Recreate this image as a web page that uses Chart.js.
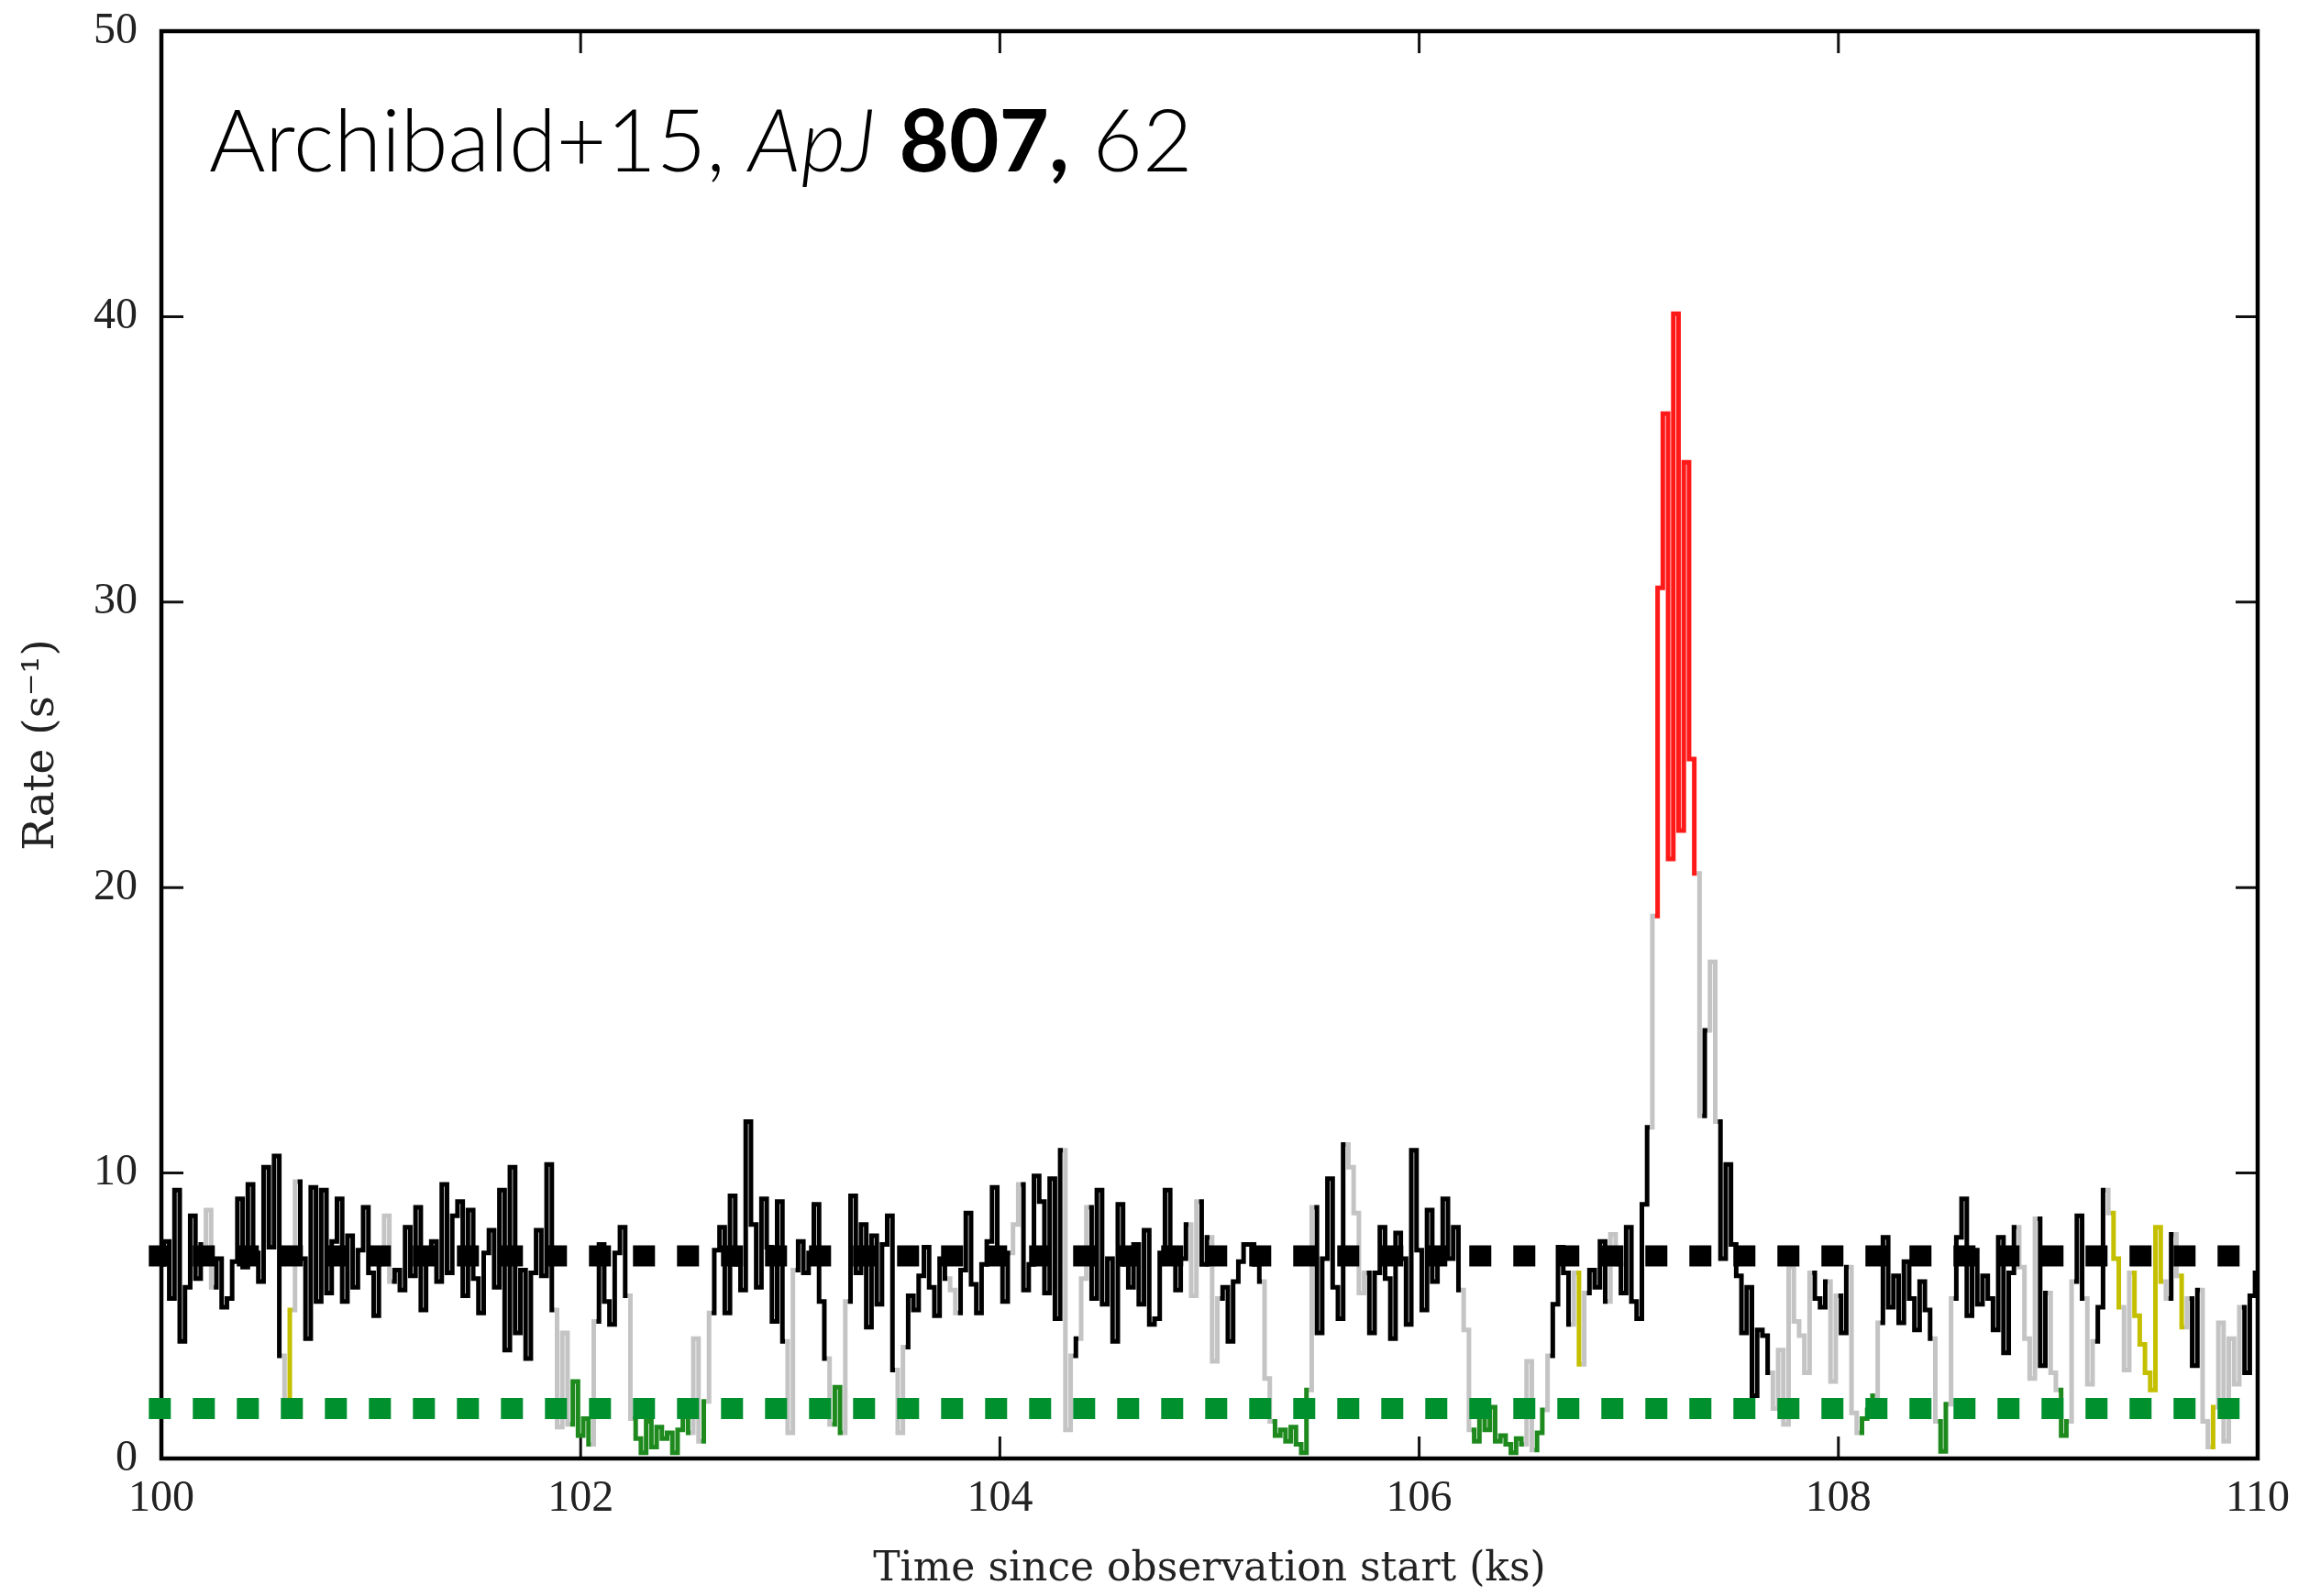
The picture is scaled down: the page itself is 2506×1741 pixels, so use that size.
<!DOCTYPE html>
<html>
<head>
<meta charset="utf-8">
<script src="https://cdn.jsdelivr.net/npm/chart.js@4.4.1/dist/chart.umd.min.js"></script>
<style>
  html, body { margin: 0; padding: 0; background: #fff; }
  #lightcurve_container { width: 2506px; height: 1741px; }
</style>
</head>
<body>
<div id="lightcurve_container"><canvas id="lightcurve"></canvas></div>
<script>
// Count-rate light curve, 25 s bins from 100 ks on
const binStart = 100;     // ks
const binWidth = 0.025;   // ks

const rates = [
  6.8, 7.6, 5.6, 9.4, 4.1, 6.0, 8.5, 6.3, 7.5, 8.7,
  6.0, 7.0, 5.3, 5.6, 6.9, 9.1, 6.7, 9.6, 7.2, 6.2,
  10.2, 7.4, 10.6, 3.6, 2.0, 5.2, 9.7, 7.0, 4.2, 9.5,
  5.5, 9.4, 5.8, 7.6, 9.1, 5.5, 7.8, 6.0, 7.3, 8.8,
  6.5, 5.0, 6.8, 8.5, 6.2, 6.6, 5.9, 8.1, 6.4, 8.8,
  5.2, 7.0, 7.6, 6.2, 9.6, 6.5, 8.5, 9.0, 5.7, 8.7,
  6.3, 5.1, 7.2, 8.0, 6.0, 9.4, 3.8, 10.2, 4.4, 6.6,
  3.5, 6.5, 8.0, 6.4, 10.3, 5.2, 1.1, 4.4, 1.2, 2.7,
  0.8, 1.4, 0.5, 4.8, 7.5, 5.5, 4.7, 7.2, 8.1, 5.7,   // 102 ks
  1.4, 0.7, 0.2, 1.3, 0.4, 1.1, 0.7, 0.9, 0.2, 1.0,
  1.5, 0.9, 4.2, 0.6, 2.0, 5.1, 7.3, 8.1, 5.1, 9.2,
  6.8, 5.9, 11.8, 8.2, 6.0, 9.1, 7.4, 4.8, 9.0, 4.1,
  0.9, 6.6, 7.6, 6.5, 7.2, 8.9, 5.5, 3.5, 1.2, 2.5,
  0.9, 5.5, 9.2, 6.5, 8.2, 4.6, 7.8, 5.4, 7.5, 8.5,
  3.1, 0.9, 3.9, 5.7, 5.2, 6.4, 7.4, 6.0, 5.0, 7.0,
  6.3, 5.9, 5.1, 6.6, 8.6, 6.1, 5.1, 6.8, 7.6, 9.5,
  7.0, 5.5, 7.2, 8.2, 9.6, 5.9, 6.8, 9.9, 9.0, 5.8,   // 104 ks
  9.8, 4.9, 10.8, 1.0, 3.6, 4.2, 6.3, 8.8, 5.6, 9.4,
  5.4, 7.0, 4.1, 8.9, 6.8, 6.0, 7.5, 5.4, 8.0, 4.7,
  4.9, 7.2, 9.4, 6.9, 5.9, 7.0, 8.2, 5.7, 9.0, 6.8,
  7.75, 3.4, 5.6, 6.0, 4.1, 6.2, 6.9, 7.5, 7.5, 6.8,
  6.2, 2.8, 1.3, 0.8, 1.0, 0.6, 1.1, 0.5, 0.2, 2.4,
  8.8, 4.4, 7.0, 9.8, 6.0, 4.9, 11.0, 10.2, 8.6, 5.8,
  6.5, 4.4, 6.5, 8.1, 6.3, 4.2, 7.9, 7.0, 4.7, 10.8,
  7.3, 5.2, 8.7, 6.2, 7.0, 9.1, 7.0, 8.1, 5.9, 4.5,   // 106 ks
  1.0, 0.6, 1.5, 1.0, 1.8, 0.6, 0.8, 0.5, 0.2, 0.7,
  0.5, 3.4, 0.3, 0.9, 1.7, 3.6, 5.4, 7.4, 6.5, 4.7,
  6.5, 3.3, 5.8, 6.6, 6.0, 7.6, 5.5, 7.85, 6.8, 5.8,
  8.1, 5.5, 4.9, 8.9, 11.6, 19.0, 30.5, 36.6, 21.0, 40.1,
  22.0, 34.9, 24.5, 20.5, 12.0, 15.0, 17.4, 11.8, 7.0, 10.3,
  7.5, 6.4, 4.4, 6.0, 2.2, 4.5, 4.3, 3.0, 1.75, 3.8,
  1.2, 6.7, 4.8, 4.3, 3.0, 6.5, 5.6, 5.3, 6.2, 2.7,
  5.7, 4.4, 6.7, 1.6, 0.9, 1.4, 1.7, 2.2, 4.75, 7.75,  // 108 ks
  5.3, 6.4, 4.75, 6.9, 5.6, 4.5, 6.2, 5.2, 4.2, 1.3,
  0.25, 1.9, 5.6, 7.75, 9.1, 5.0, 7.3, 5.4, 6.4, 5.6,
  4.5, 7.75, 3.7, 6.5, 8.1, 6.7, 4.2, 2.8, 8.4, 3.25,
  5.8, 3.0, 2.4, 0.8, 1.3, 6.2, 8.5, 5.6, 2.6, 4.1,
  5.3, 9.4, 8.6, 7.0, 5.3, 3.1, 6.5, 5.0, 4.0, 3.0,
  2.4, 8.1, 6.2, 5.6, 7.85, 6.4, 4.6, 5.6, 3.25, 5.9,
  1.3, 0.4, 1.8, 4.75, 0.6, 4.2, 2.6, 5.3, 3.0, 5.7,
  6.5                                                  // 110 ks
];

// mode of each bin: h = high, l = low, f = flare, y = unassigned
const modes = [
  'hhhhhhhhhy', 'hhhhhhhhhh', 'hhhhyyhhhh', 'hhhhhhhhhh', 'hhhyhhhhhh',
  'hhhhhhhhhh', 'hhhhhhhhhh', 'hhhhhhlhll', 'lllhhhhhhh', 'llllllllll',
  'llhllhhhhh', 'hhhhhhhhhh', 'yhhhhhhhll', 'lhhhhhhhhh', 'hlhhhhhhhh',
  'hyhhhhhhhh', 'hhhyhhhhhh', 'hhhyhhyhhh', 'hhhhhhhhhh', 'hhhhhhhyhh',
  'hyhhhhhhhh', 'hyllllllll', 'hhhhhhhyhy', 'hhhhhhhhhh', 'hhhhhhhhhy',
  'llllllllll', 'lhlllhhhhh', 'yyhhhhhyhh', 'hhhhhfffff', 'ffffhhfhhh',
  'hhhhhhhhlh', 'lhyhyhhhhl', 'hhhyllllhh', 'hhhhhhhhhl', 'llhhhhhhhh',
  'hhhhhyhlhh', 'hylllhhhyh', 'hhyyyhyyyy', 'yyyhhyyhhh', 'lyyhlhlhhh',
  'h'
].join('').split('');

// mean rates of the high and low modes
const highLevel = 7.1;
const lowLevel = 1.75;
const levelSpan = [99.94, 109.92];

const xTicks = [100, 102, 104, 106, 108, 110];
const yTicks = [0, 10, 20, 30, 40, 50];

const modeColour = { h: '#000000', l: '#1e8a1e', f: '#ff1a1a', y: '#c4c000' };
const switchColour = '#c4c4c4';

const citation = [
  { text: 'Archibald+15, ', font: '300 94px Lato' },
  { text: 'ApJ', font: 'italic 300 94px Lato' },
  { text: ' ', font: '300 94px Lato' },
  { text: '807,', font: 'bold 94px Lato' },
  { text: ' 62', font: '300 94px Lato' }
];

const curve = rates.map((r, i) => ({ x: binStart + i * binWidth, y: r }));

// box round the plot with inward ticks on every side
const frame = {
  id: 'frame',
  beforeDatasetsDraw(chart) {
    const { ctx, chartArea: a, scales: { x, y } } = chart;
    const len = 24;
    ctx.save();
    ctx.strokeStyle = '#111';
    ctx.lineWidth = 3;
    ctx.beginPath();
    xTicks.slice(1, -1).forEach(v => {
      const px = x.getPixelForValue(v);
      ctx.moveTo(px, a.bottom); ctx.lineTo(px, a.bottom - len);
      ctx.moveTo(px, a.top); ctx.lineTo(px, a.top + len);
    });
    yTicks.slice(1, -1).forEach(v => {
      const py = y.getPixelForValue(v);
      ctx.moveTo(a.left, py); ctx.lineTo(a.left + len, py);
      ctx.moveTo(a.right, py); ctx.lineTo(a.right - len, py);
    });
    ctx.stroke();
    ctx.lineWidth = 4.5;
    ctx.strokeStyle = '#000';
    ctx.strokeRect(a.left, a.top, a.right - a.left, a.bottom - a.top);
    ctx.restore();
  }
};

const citationLabel = {
  id: 'citationLabel',
  afterDraw(chart) {
    const ctx = chart.ctx;
    let x = 228;
    ctx.save();
    ctx.fillStyle = '#000';
    ctx.textBaseline = 'alphabetic';
    citation.forEach(part => {
      ctx.font = part.font;
      ctx.fillText(part.text, x, 187);
      x += ctx.measureText(part.text).width;
    });
    ctx.restore();
  }
};

function drawLightCurve() {
  new Chart(document.getElementById('lightcurve'), {
    type: 'line',
    data: {
      datasets: [
        {
          data: [{ x: levelSpan[0], y: highLevel }, { x: levelSpan[1], y: highLevel }],
          borderColor: '#000',
          borderWidth: 23,
          borderDash: [24, 24],
          borderCapStyle: 'butt',
          pointRadius: 0,
          clip: false
        },
        {
          data: [{ x: levelSpan[0], y: lowLevel }, { x: levelSpan[1], y: lowLevel }],
          borderColor: '#00902e',
          borderWidth: 23,
          borderDash: [24, 24],
          borderCapStyle: 'butt',
          pointRadius: 0,
          clip: false
        },
        {
          data: curve,
          stepped: 'middle',
          borderWidth: 5,
          borderColor: '#000',
          pointRadius: 0,
          segment: {
            borderColor: c => modes[c.p0DataIndex] === modes[c.p1DataIndex]
              ? modeColour[modes[c.p0DataIndex]] : switchColour
          }
        }
      ]
    },
    options: {
      responsive: true,
      maintainAspectRatio: false,
      animation: false,
      events: [],
      layout: { padding: 0 },
      plugins: { legend: { display: false }, tooltip: { enabled: false } },
      scales: {
        x: {
          type: 'linear',
          min: 100, max: 110,
          afterFit: s => { s.height = 150; s.paddingLeft = 0; s.paddingRight = 44; },
          afterBuildTicks: s => { s.ticks = xTicks.map(v => ({ value: v })); },
          grid: { display: false, drawTicks: false },
          border: { display: false },
          ticks: { padding: 16, color: '#222', font: { family: 'Liberation Serif', size: 48 } },
          title: {
            display: true,
            text: 'Time since observation start (ks)',
            color: '#222',
            font: { family: 'DejaVu Serif', size: 44 },
            padding: { top: 0, bottom: 2 }
          }
        },
        y: {
          min: 0, max: 50,
          afterFit: s => { s.width = 176; s.paddingTop = 34; s.paddingBottom = 0; },
          afterBuildTicks: s => { s.ticks = yTicks.map(v => ({ value: v })); },
          grid: { display: false, drawTicks: false },
          border: { display: false },
          ticks: { padding: 26, color: '#222', font: { family: 'Liberation Serif', size: 48 } },
          title: {
            display: true,
            text: 'Rate (s\u207B\u00B9)',
            color: '#222',
            font: { family: 'DejaVu Serif', size: 47 },
            padding: { top: 18, bottom: 0 }
          }
        }
      }
    },
    plugins: [frame, citationLabel]
  });
}

drawLightCurve();
</script>
</body>
</html>
